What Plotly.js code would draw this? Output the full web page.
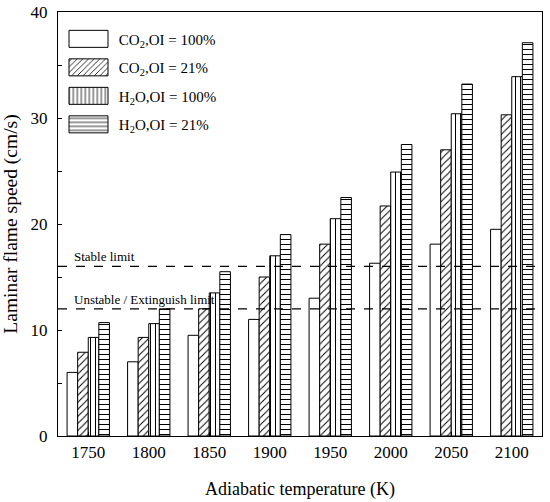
<!DOCTYPE html>
<html>
<head>
<meta charset="utf-8">
<script src="https://cdn.plot.ly/plotly-3.0.1.min.js"></script>
<style>html,body{margin:0;padding:0;background:#fff;}#chart{width:550px;height:502px;}</style>
</head>
<body>
<div id="chart"></div>
<script>
const categories = ['1750','1800','1850','1900','1950','2000','2050','2100'];
const seriesNames = ['CO<sub>2</sub>,OI = 100%','CO<sub>2</sub>,OI = 21%','H<sub>2</sub>O,OI = 100%','H<sub>2</sub>O,OI = 21%'];
const co2_100 = [6.0, 7.0, 9.5, 11.0, 13.0, 16.3, 18.1, 19.5];
const co2_21  = [7.9, 9.3, 12.0, 15.0, 18.1, 21.7, 27.0, 30.3];
const h2o_100 = [9.3, 10.6, 13.5, 17.0, 20.5, 24.9, 30.4, 33.9];
const h2o_21  = [10.7, 12.0, 15.5, 19.0, 22.5, 27.5, 33.2, 37.1];
const stableLimit = 16;
const unstableLimit = 12;

const patterns = ['', '/', '|', '-'];
const values = [co2_100, co2_21, h2o_100, h2o_21];
const FONT = 'Liberation Serif, Times New Roman, serif';

const traces = values.map((v, i) => ({
  type: 'bar',
  name: seriesNames[i],
  legendgroup: 'g' + i,
  x: categories,
  y: v,
  marker: {
    color: 'white',
    line: {color: 'black', width: 1},
    pattern: {shape: patterns[i], fgcolor: 'black', bgcolor: 'white', size: 5, solidity: 0.2}
  }
}));

const layout = {
  width: 550, height: 502,
  margin: {l: 58, r: 8, t: 12, b: 66},
  paper_bgcolor: 'white', plot_bgcolor: 'white',
  font: {family: FONT, color: 'black', size: 17},
  barmode: 'group', bargap: 0.3, bargroupgap: 0,
  showlegend: true,
  legend: {x: 0.012, y: 0.975, xanchor: 'left', yanchor: 'top', bgcolor: 'rgba(0,0,0,0)',
           font: {family: FONT, size: 15}, itemwidth: 45, tracegroupgap: 6, traceorder: 'grouped'},
  xaxis: {
    type: 'category', range: [-0.5, 7.5],
    showline: true, linecolor: 'black', linewidth: 1.2, mirror: true,
    ticks: 'inside', ticklen: 4, tickcolor: 'black',
    tickfont: {family: FONT, size: 17},
    title: {text: 'Adiabatic temperature (K)', font: {family: FONT, size: 18}, standoff: 21},
    showgrid: false, zeroline: false
  },
  yaxis: {
    range: [0, 40], dtick: 10,
    showline: true, linecolor: 'black', linewidth: 1.2, mirror: true,
    ticks: 'inside', ticklen: 4, tickcolor: 'black',
    minor: {dtick: 5, ticks: 'inside', ticklen: 4, tickcolor: 'black'},
    ticklabelstandoff: 6,
    tickfont: {family: FONT, size: 17},
    title: {text: 'Laminar flame speed (cm/s)', font: {family: FONT, size: 19.5}, standoff: 9},
    showgrid: false, zeroline: false
  },
  shapes: [stableLimit, unstableLimit].map(v => ({
    type: 'line', xref: 'paper', x0: 0, x1: 1, yref: 'y', y0: v, y1: v,
    line: {color: 'black', width: 1.3, dash: 'dash'}
  })),
  annotations: [
    {text: 'Stable limit', xref: 'paper', x: 0.029, xanchor: 'left', yref: 'y', y: stableLimit, yanchor: 'bottom',
     showarrow: false, font: {family: FONT, size: 13}},
    {text: 'Unstable / Extinguish limit', xref: 'paper', x: 0.029, xanchor: 'left', yref: 'y', y: unstableLimit, yanchor: 'bottom',
     showarrow: false, font: {family: FONT, size: 13}}
  ]
};

Plotly.newPlot('chart', traces, layout, {displayModeBar: false, staticPlot: true}).then(gd => {
  // enlarge legend swatches to the reference's wide rectangles
  const root = gd.getBoundingClientRect();
  gd.querySelectorAll('.legend .traces .legendpoints path').forEach(p => {
    const b = p.getBoundingClientRect();
    const cx = b.left + b.width / 2 - root.left;
    const L = 69 - cx, R = 108 - cx;
    p.setAttribute('d', 'M' + R + ',8.5H' + L + 'V-8.5H' + R + 'Z');
    p.style.strokeWidth = '1px';
  });
});
</script>
</body>
</html>
